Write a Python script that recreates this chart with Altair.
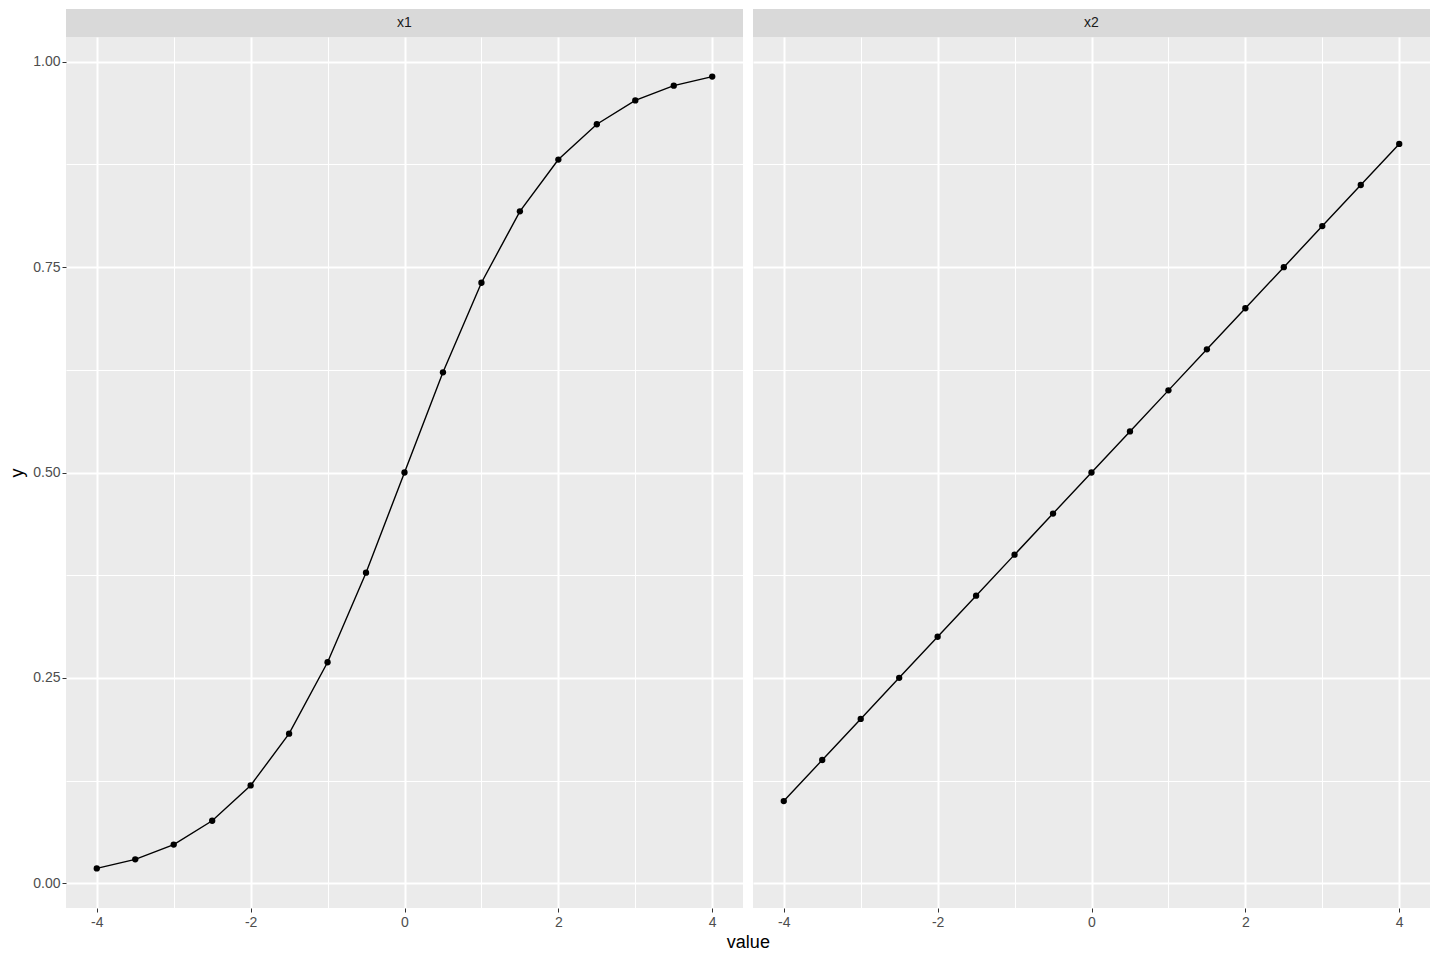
import altair as alt
import pandas as pd

xs = [-4, -3.5, -3, -2.5, -2, -1.5, -1, -0.5, 0, 0.5, 1, 1.5, 2, 2.5, 3, 3.5, 4]
y_x1 = [0.018, 0.029, 0.047, 0.076, 0.119, 0.182, 0.269, 0.378, 0.500,
        0.622, 0.731, 0.818, 0.881, 0.924, 0.953, 0.971, 0.982]
y_x2 = [0.10, 0.15, 0.20, 0.25, 0.30, 0.35, 0.40, 0.45, 0.50,
        0.55, 0.60, 0.65, 0.70, 0.75, 0.80, 0.85, 0.90]
panels = ["x1", "x2"]
x_breaks = [-4, -3, -2, -1, 0, 1, 2, 3, 4]
y_breaks = [0, 0.125, 0.25, 0.375, 0.5, 0.625, 0.75, 0.875, 1.0]

rows = []
for v, ys in zip(panels, [y_x1, y_x2]):
    for x, y in zip(xs, ys):
        rows.append({"variable": v, "value": x, "y": y})
df = pd.DataFrame(rows)

PW, PH, SH = 677, 871, 28
FONT = "Liberation Sans"

x_major = "datum.value % 2 === 0"
y_major = "round(datum.value*4) === datum.value*4"


def x_axis():
    return alt.Axis(
        values=x_breaks, title=None, domain=False,
        labelExpr=f"({x_major}) ? ('' + datum.value) : ''",
        labelColor="#4D4D4D", labelFontSize=14, labelFont=FONT, labelPadding=3,
        tickColor="#333333", tickSize=4,
        tickOpacity={"condition": {"test": x_major, "value": 1}, "value": 0},
        gridColor="white",
        gridWidth={"condition": {"test": x_major, "value": 2}, "value": 1},
        minExtent=0,
    )


def y_axis(show):
    if show:
        return alt.Axis(
            values=y_breaks, title="y", domain=False,
            labelExpr=f"({y_major}) ? format(datum.value, '.2f') : ''",
            labelColor="#4D4D4D", labelFontSize=14, labelFont=FONT, labelPadding=2,
            tickColor="#333333", tickSize=4,
            tickOpacity={"condition": {"test": y_major, "value": 1}, "value": 0},
            gridColor="white",
            gridWidth={"condition": {"test": y_major, "value": 2}, "value": 1},
            titleFontSize=18, titleFont=FONT, titleFontWeight="normal",
            titleColor="black", titlePadding=6, minExtent=0,
        )
    return alt.Axis(
        values=y_breaks, title=None, domain=False, labels=False, ticks=False,
        gridColor="white", minExtent=0, maxExtent=0,
        gridWidth={"condition": {"test": y_major, "value": 2}, "value": 1},
    )


def panel(var, first):
    base = alt.Chart(df).transform_filter(alt.datum.variable == var)
    enc = dict(
        x=alt.X("value:Q", scale=alt.Scale(domain=[-4.4, 4.4], nice=False, zero=False),
                axis=x_axis()),
        y=alt.Y("y:Q", scale=alt.Scale(domain=[-0.0302, 1.0302], nice=False, zero=False),
                axis=y_axis(first)),
    )
    line = base.mark_line(color="black", strokeWidth=1.4).encode(**enc)
    pts = base.mark_circle(color="black", size=40, opacity=1).encode(**enc)
    plot = alt.layer(line, pts).properties(
        width=PW, height=PH, view=alt.ViewBackground(fill="#EBEBEB", stroke=None)
    )
    sdf = pd.DataFrame({"label": [var]})
    srect = alt.Chart(sdf).mark_rect(color="#D9D9D9").encode(
        x=alt.value(0), x2=alt.value(PW), y=alt.value(0), y2=alt.value(SH)
    )
    stext = alt.Chart(sdf).mark_text(
        color="#1A1A1A", fontSize=14, font=FONT, baseline="middle", align="center"
    ).encode(text="label:N", x=alt.value(PW / 2), y=alt.value(SH / 2))
    strip = alt.layer(srect, stext).properties(
        width=PW, height=SH, view=alt.ViewBackground(fill=None, stroke=None)
    )
    return alt.vconcat(strip, plot, spacing=0)


chart = alt.hconcat(panel("x1", True), panel("x2", False), spacing=10).properties(
    padding={"left": 0, "top": 1, "right": 0, "bottom": 0},
    title=alt.TitleParams(
        "value", orient="bottom", anchor="middle", fontSize=18, font=FONT,
        fontWeight="normal", color="black", offset=5, dx=29,
    ),
).configure(background="white")

chart.save("out.html", embed_options={"renderer": "svg", "actions": False})
